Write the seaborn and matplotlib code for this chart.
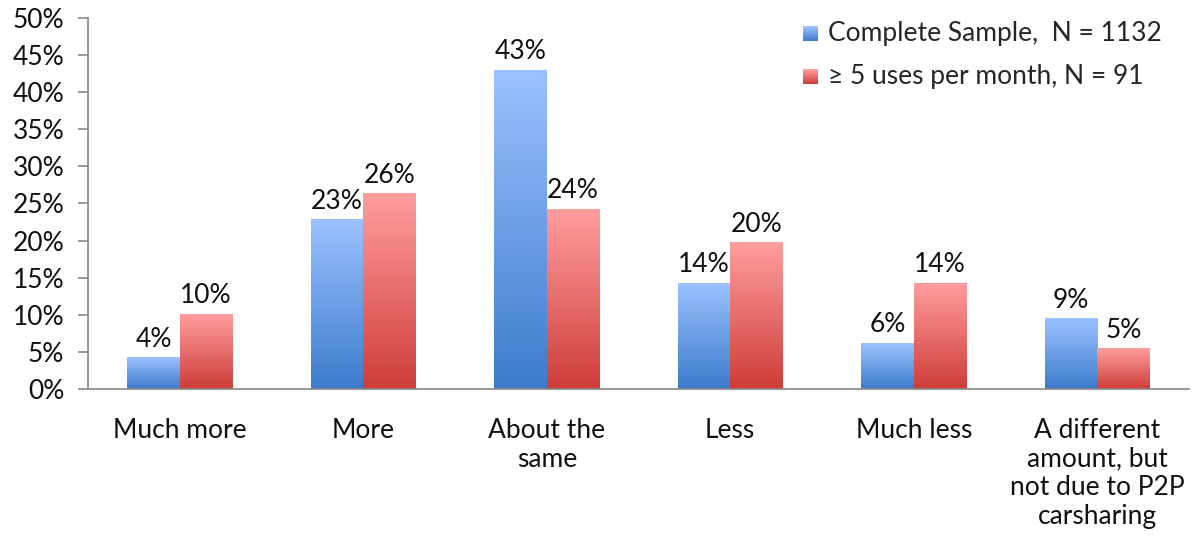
import numpy as np
import pandas as pd
import matplotlib
matplotlib.use("Agg")
import matplotlib.pyplot as plt
import seaborn as sns
from matplotlib.colors import LinearSegmentedColormap
from matplotlib.legend_handler import HandlerBase
from matplotlib.patches import Rectangle

# -------- Datos --------
categorias = ["Much more", "More", "About the\nsame", "Less", "Much less",
              "A different\namount, but\nnot due to P2P\ncarsharing"]
serie_completa = [4.3, 22.9, 43.0, 14.3, 6.2, 9.5]
serie_frecuente = [10.1, 26.4, 24.3, 19.8, 14.3, 5.5]
etiquetas_completa = ["4%", "23%", "43%", "14%", "6%", "9%"]
etiquetas_frecuente = ["10%", "26%", "24%", "20%", "14%", "5%"]
nombres_series = ["Complete Sample,  N = 1132", "\u2265 5 uses per month, N = 91"]
ticks_y = [0, 5, 10, 15, 20, 25, 30, 35, 40, 45, 50]

# degradados (arriba claro -> abajo oscuro)
GRAD = {
    nombres_series[0]: ("#9CC2FF", "#3D7BCB"),
    nombres_series[1]: ("#FF9E9E", "#CE3D39"),
}
FS = 19
TXT = "#111111"

df = pd.DataFrame({
    "categoria": categorias * 2,
    "valor": serie_completa + serie_frecuente,
    "serie": [nombres_series[0]] * 6 + [nombres_series[1]] * 6,
})

sns.set_style("white")
plt.rcParams["font.family"] = ["Lato", "DejaVu Sans"]

fig = plt.figure(figsize=(11.93, 5.56), dpi=100)
ax = fig.add_axes([0.0738, 0.3004, 0.9228, 0.6672])

sns.barplot(data=df, x="categoria", y="valor", hue="serie",
            hue_order=nombres_series, order=categorias,
            width=0.572, legend=False, ax=ax, errorbar=None,
            palette=[GRAD[n][1] for n in nombres_series])

ax.set_ylim(0, 50)
ax.set_xlim(-0.5, len(categorias) - 0.5)


def pintar_degradado(patch, top, bottom):
    x0, y0 = patch.get_x(), patch.get_y()
    w, h = patch.get_width(), patch.get_height()
    cmap = LinearSegmentedColormap.from_list("g", [bottom, top])
    grad = np.linspace(0, 1, 256).reshape(-1, 1)
    im = ax.imshow(grad, cmap=cmap, origin="lower", aspect="auto",
                   extent=[x0, x0 + w, y0, y0 + h], zorder=2)
    im.set_clip_path(patch)
    patch.set_facecolor("none")
    patch.set_edgecolor("none")


for cont, nombre, etiq in zip(ax.containers, nombres_series,
                               [etiquetas_completa, etiquetas_frecuente]):
    top, bottom = GRAD[nombre]
    for p in cont:
        pintar_degradado(p, top, bottom)
    ax.bar_label(cont, labels=etiq, padding=4, fontsize=FS, color=TXT)

ax.set_xlim(-0.5, len(categorias) - 0.5)
ax.set_ylim(0, 50)

# ejes
ax.set_yticks(ticks_y)
ax.set_yticklabels([f"{t}%" for t in ticks_y], fontsize=FS, color=TXT)
ax.set_xticks(range(len(categorias)))
ax.set_xticklabels(categorias, fontsize=FS, color=TXT, linespacing=1.18)
ax.set_xticks(np.arange(-0.5, len(categorias), 1), minor=True)
ax.tick_params(axis="x", which="major", length=0, pad=21)
ax.tick_params(axis="x", which="minor", length=8, color="#888888", width=1.2)
ax.tick_params(axis="y", length=7, color="#888888", width=1.2, pad=10, left=True)
ax.set_xlabel("")
ax.set_ylabel("")
for s in ["top", "right"]:
    ax.spines[s].set_visible(False)
for s in ["left", "bottom"]:
    ax.spines[s].set_color("#888888")
    ax.spines[s].set_linewidth(1.2)


# leyenda con cuadros en degradado
class HandlerDegradado(HandlerBase):
    def __init__(self, top, bottom):
        super().__init__()
        self.top, self.bottom = top, bottom

    def create_artists(self, legend, orig_handle, xdescent, ydescent,
                       width, height, fontsize, trans):
        cmap = LinearSegmentedColormap.from_list("g", [self.bottom, self.top])
        n = 20
        lado = height * 0.8
        artistas = []
        for i in range(n):
            r = Rectangle((width - lado - xdescent, -ydescent + i * lado / n),
                          lado, lado / n + 0.3, facecolor=cmap(i / (n - 1)),
                          edgecolor="none", transform=trans)
            artistas.append(r)
        return artistas


handles = [Rectangle((0, 0), 1, 1) for _ in nombres_series]
leg = ax.legend(handles, nombres_series, loc="upper left",
                bbox_to_anchor=(0.627, 1.056), frameon=False, fontsize=FS,
                handlelength=0.6, handletextpad=0.4, labelspacing=0.68,
                handler_map={h: HandlerDegradado(*GRAD[n])
                             for h, n in zip(handles, nombres_series)})

fig.savefig("out.png", dpi=100)
